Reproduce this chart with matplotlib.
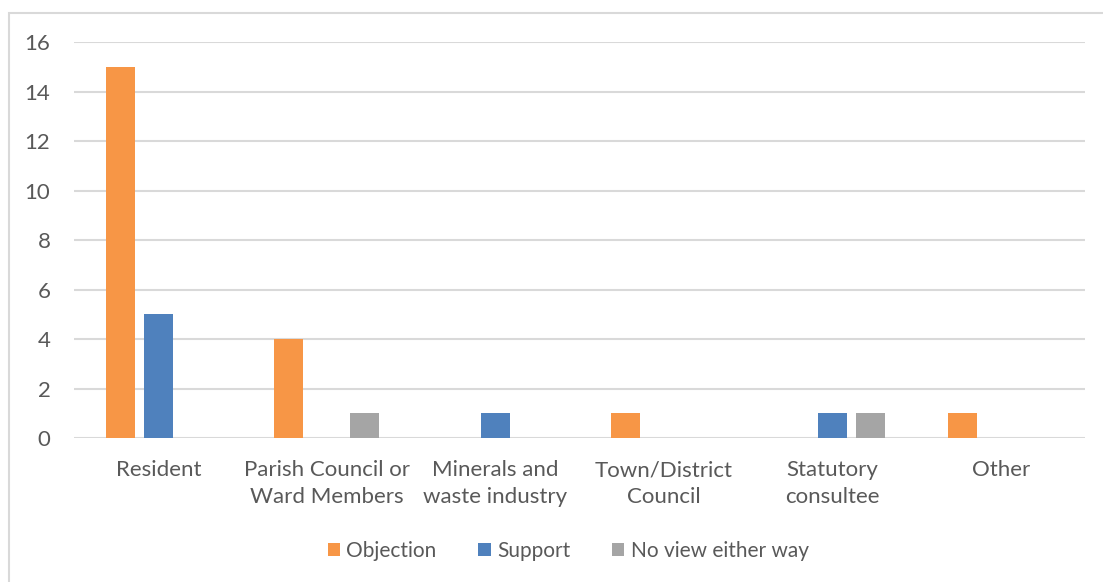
import matplotlib.pyplot as plt
import numpy as np
from matplotlib.patches import Rectangle

categories = ["Resident", "Parish Council or\nWard Members", "Minerals and\nwaste industry",
              "Town/District\nCouncil", "Statutory\nconsultee", "Other"]
objection = [15, 4, 0, 1, 0, 1]
support = [5, 0, 1, 0, 1, 0]
no_view = [0, 1, 0, 0, 1, 0]

series = [("Objection", objection, "#F79646"),
          ("Support", support, "#4F81BD"),
          ("No view either way", no_view, "#A5A5A5")]

plt.rcParams['font.family'] = ['Lato', 'DejaVu Sans']
text_color = "#595959"

fig = plt.figure(figsize=(11.03, 5.82), dpi=100)
ax = fig.add_axes([0.0671, 0.2474, 0.9166, 0.6804])

x = np.arange(len(categories))
width = 0.172
step = 0.2255
for i, (name, vals, color) in enumerate(series):
    ax.bar(x + (i - 1) * step, vals, width, color=color, label=name, zorder=3)

ax.set_xlim(-0.5, len(categories) - 0.5)
ax.set_ylim(0, 16)
ax.set_yticks(range(0, 17, 2))
ax.set_xticks(x)
ax.set_xticklabels(categories, fontsize=16, color=text_color, linespacing=1.45)
ax.tick_params(axis='y', labelsize=16, labelcolor=text_color, length=0, pad=17)
ax.tick_params(axis='x', length=0, pad=16)
ax.grid(axis='y', color="#D9D9D9", linewidth=1.5, zorder=0)
for s in ax.spines.values():
    s.set_visible(False)

# outer chart frame
fig.patches.append(Rectangle((9 / 1103, -0.1), 1.2, 1.1 - 13 / 582, transform=fig.transFigure,
                             fill=False, edgecolor="#D9D9D9", linewidth=1.5))

leg = fig.legend(loc='center', bbox_to_anchor=(0.515, 0.053), ncol=3, frameon=False,
                 fontsize=15, handlelength=0.6, handleheight=0.6, handletextpad=0.3,
                 columnspacing=2.0)
for t in leg.get_texts():
    t.set_color(text_color)

fig.savefig("out.png", dpi=100)
